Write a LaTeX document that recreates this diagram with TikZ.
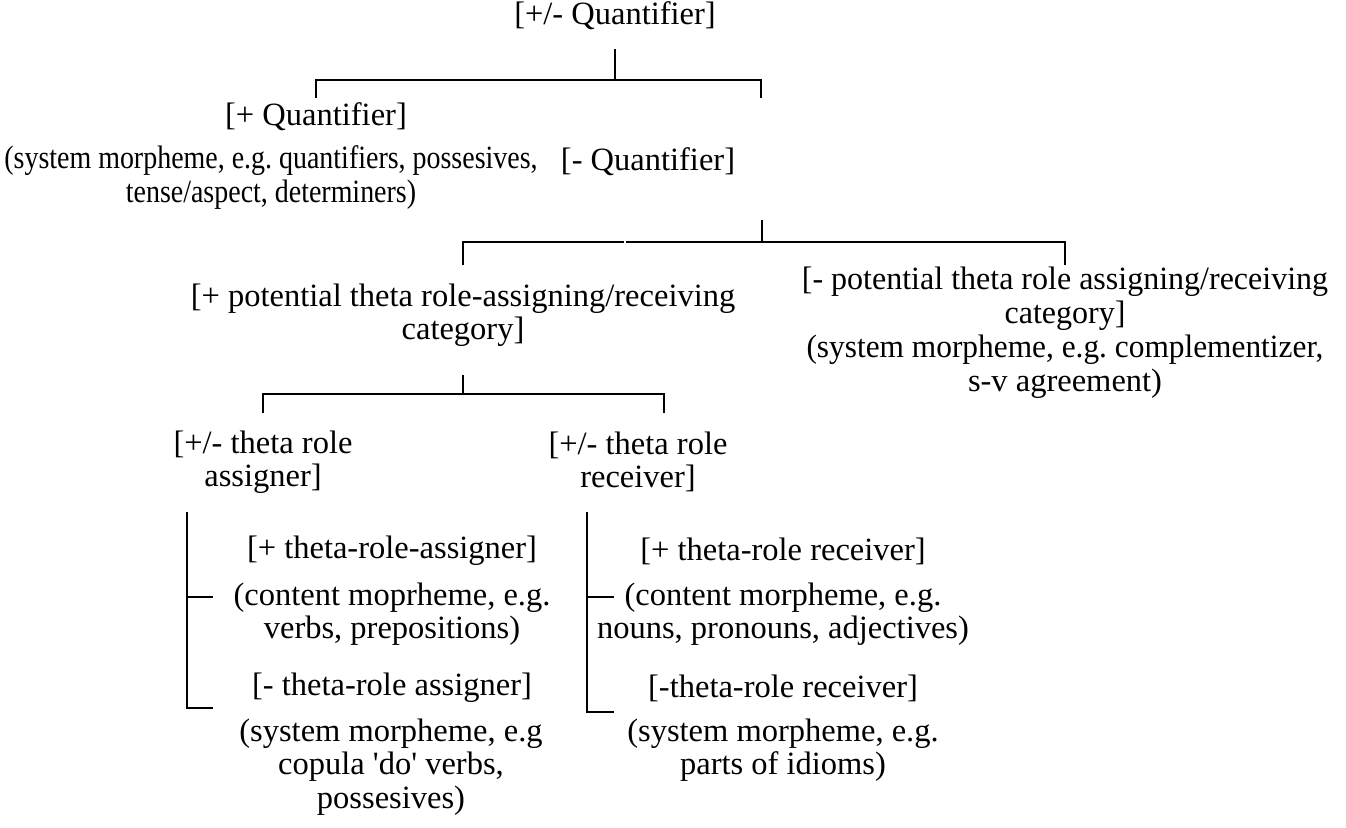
\documentclass[tikz,border=0pt]{standalone}
\usepackage{fontspec}
\setmainfont{Liberation Serif}
\frenchspacing
\begin{document}
\begin{tikzpicture}[x=1pt,y=-1pt,
  lbl/.style={inner sep=0pt,align=center,font=\fontsize{32.5}{33.5}\selectfont},
  narrow/.style={font=\fontsize{32.5}{34}\selectfont\addfontfeature{FakeStretch=#1}},
  tree/.style={line width=1.3pt,black}]
\useasboundingbox (0,0) rectangle (1346,827);
% text nodes
\node[lbl] (top) at (615,16) {[+/- Quantifier]};
\node[lbl] (plusQ) at (316,117) {[+ Quantifier]};
\node[lbl,narrow=0.86] (sysQ) at (271,178) {(system morpheme, e.g. quantifiers, possesives,\\tense/aspect, determiners)};
\node[lbl] (minusQ) at (648,162) {[- Quantifier]};
\node[lbl] (plusPot) at (463,315) {[+ potential theta role-assigning/receiving\\category]};
\node[lbl,narrow=0.985] (minusPot) at (1065,299) {[- potential theta role assigning/receiving\\category]};
\node[lbl,narrow=0.965] (sysPot1) at (1065,350) {(system morpheme, e.g. complementizer,};
\node[lbl] (sysPot2) at (1065,384) {s-v agreement)};
\node[lbl] (assigner) at (263,462) {[+/- theta role\\assigner]};
\node[lbl] (receiver) at (638,462) {[+/- theta role\\receiver]};
\node[lbl] (plusA) at (392,551) {[+ theta-role-assigner]};
\node[lbl] (contA) at (392,614) {(content moprheme, e.g.\\verbs, prepositions)};
\node[lbl] (minusA) at (392,688) {[- theta-role assigner]};
\node[lbl] (sysA) at (391,767) {(system morpheme, e.g\\copula \textquotesingle do\textquotesingle\ verbs,\\possesives)};
\node[lbl] (plusR) at (783,551) {[+ theta-role receiver]};
\node[lbl] (contR) at (783,614) {(content morpheme, e.g.\\nouns, pronouns, adjectives)};
\node[lbl] (minusR) at (783,688) {[-theta-role receiver]};
\node[lbl] (sysR) at (783,750) {(system morpheme, e.g.\\parts of idioms)};
% connectors
\coordinate (t0) at (615,49);
\coordinate (t1) at (615,80);
\coordinate (tl) at (316,98);
\coordinate (tr) at (761,98);
\draw[tree] (t0) -- (t1);
\draw[tree] (tl) |- (t1) -| (tr);
\coordinate (s0) at (762,220);
\coordinate (s1) at (762,242);
\coordinate (sg1) at (624,242);
\coordinate (sg2) at (626,242);
\coordinate (sl) at (463,265);
\coordinate (sr) at (1065,265);
\draw[tree] (s0) -- (s1);
\draw[tree] (sl) |- (sg1);
\draw[tree] (sg2) -- (s1) -| (sr);
\coordinate (u0) at (463,375);
\coordinate (u1) at (463,394);
\coordinate (ul) at (263,413);
\coordinate (ur) at (664,413);
\draw[tree] (u0) -- (u1);
\draw[tree] (ul) |- (u1) -| (ur);
\coordinate (a0) at (187,512);
\coordinate (am) at (187,597);
\coordinate (amt) at (213,597);
\coordinate (ab) at (213,708);
\draw[tree] (a0) |- (ab);
\draw[tree] (am) -- (amt);
\coordinate (r0) at (587,512);
\coordinate (rm) at (587,597);
\coordinate (rmt) at (614,597);
\coordinate (rb) at (614,712);
\draw[tree] (r0) |- (rb);
\draw[tree] (rm) -- (rmt);
\end{tikzpicture}
\end{document}
